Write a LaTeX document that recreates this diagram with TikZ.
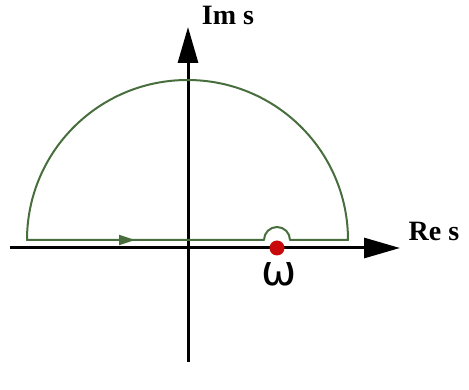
\documentclass[tikz,border=0pt]{standalone}
\usepackage{fontspec}
\setmainfont{Liberation Serif}
\newfontfamily\symfont{DejaVu Sans}
\usetikzlibrary{arrows.meta,decorations.markings}
\definecolor{contour}{RGB}{72,110,62}
\definecolor{poledot}{RGB}{200,10,10}
\begin{document}
\begin{tikzpicture}[x=1pt,y=-1pt,
  axis/.style={line width=3pt,black,-{Triangle[length=36pt,width=20pt]}},
  path/.style={line width=2pt,contour},
  lbl/.style={font=\bfseries\fontsize{28}{30}\selectfont,inner sep=0pt}]
\useasboundingbox (0,0) rectangle (469,390);
% axes
\coordinate (xs) at (10,248);
\coordinate (xe) at (400,248);
\coordinate (ys) at (188,362);
\coordinate (ye) at (188,27);
\draw[axis] (xs) -- (xe);
\draw[axis] (ys) -- (ye);
% contour
\coordinate (L) at (27,240);
\draw[path,line join=round,
  postaction={decorate,decoration={markings,mark=at position 108pt with {\arrow{Triangle[length=16pt,width=10pt]}}}}]
  (L) -- (264,240) arc[start angle=180,end angle=360,radius=13] -- (348,240)
  arc[start angle=0,end angle=-180,x radius=160.5,y radius=160] -- cycle;
% pole
\fill[poledot] (277,248) circle (7.5);
% labels
\node[lbl] (im) at (228,15) {Im s};
\node[lbl] (re) at (434,231) {Re s};
\node[inner sep=0pt,font=\symfont\fontsize{42}{44}\selectfont] (w) at (279,274) {ω};
\end{tikzpicture}
\end{document}
